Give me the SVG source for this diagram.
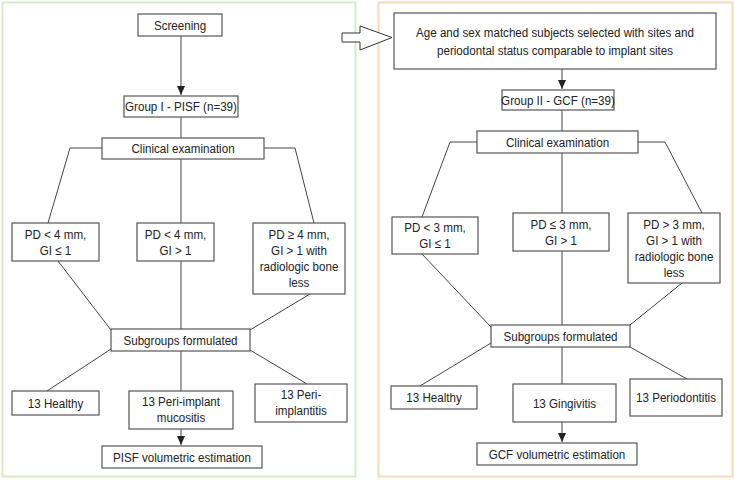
<svg xmlns="http://www.w3.org/2000/svg" width="735" height="480" viewBox="0 0 735 480">
<defs>
<marker id="ah" markerWidth="10" markerHeight="10" refX="9" refY="5" orient="auto" markerUnits="userSpaceOnUse">
<path d="M0,1 L9,5 L0,9 Z" fill="#222"/>
</marker>
<style>
.box{fill:#fff;stroke:#555;stroke-width:1.2}
.ln{fill:none;stroke:#444;stroke-width:1}
text{font-family:"Liberation Sans",Arial,sans-serif;font-size:13.5px;fill:#222;text-anchor:middle}
</style>
</defs>
<rect x="0" y="0" width="735" height="480" fill="#fff"/>
<g id="panel-left"><rect x="2.5" y="2.5" width="353" height="474" fill="none" stroke="#d9e9c8" stroke-width="2"/></g>
<g id="panel-right"><rect x="378.5" y="2.5" width="354" height="474" fill="none" stroke="#f6d9bb" stroke-width="2"/></g>
<g id="hollow-arrow"><path d="M342,33 L360,33 L360,26 L392,37.5 L360,50 L360,42 L342,42 Z" fill="#fff" stroke="#333" stroke-width="1"/></g>

<g id="connectors">
<line class="ln" x1="181" y1="36" x2="181" y2="95" marker-end="url(#ah)"/>
<line class="ln" x1="181" y1="117" x2="181" y2="138"/>
<polyline class="ln" points="102,148 70,148 48,223"/>
<polyline class="ln" points="264,148 295,148 314,223"/>
<line class="ln" x1="181" y1="159" x2="181" y2="329"/>
<line class="ln" x1="58" y1="261" x2="111" y2="330"/>
<line class="ln" x1="310" y1="294" x2="250" y2="330"/>
<line class="ln" x1="111" y1="349" x2="47" y2="391"/>
<line class="ln" x1="181" y1="351" x2="181" y2="391"/>
<line class="ln" x1="250" y1="350" x2="307" y2="384"/>
<line class="ln" x1="181" y1="429" x2="181" y2="445" marker-end="url(#ah)"/>

<line class="ln" x1="562" y1="69" x2="562" y2="89" marker-end="url(#ah)"/>
<line class="ln" x1="562" y1="110" x2="562" y2="131"/>
<polyline class="ln" points="477,142 450,142 422,217"/>
<polyline class="ln" points="638,142 665,142 702,213"/>
<line class="ln" x1="562" y1="153" x2="562" y2="325"/>
<line class="ln" x1="422" y1="254" x2="491" y2="327"/>
<line class="ln" x1="682" y1="283" x2="630" y2="325"/>
<line class="ln" x1="491" y1="343" x2="420" y2="386"/>
<line class="ln" x1="562" y1="347" x2="562" y2="384"/>
<line class="ln" x1="630" y1="347" x2="687" y2="379"/>
<line class="ln" x1="562" y1="422" x2="562" y2="442" marker-end="url(#ah)"/>
</g>

<g id="screening"><rect class="box" x="138" y="14" width="84" height="22"/><text transform="translate(180,29.5) scale(0.86,1)">Screening</text></g>
<g id="group1"><rect class="box" x="124" y="96" width="114" height="21"/><text transform="translate(181,111) scale(0.86,1)">Group I - PISF (n=39)</text></g>
<g id="clin1"><rect class="box" x="102" y="138" width="162" height="21"/><text transform="translate(183,153) scale(0.86,1)">Clinical examination</text></g>
<g id="pd1a"><rect class="box" x="12" y="223" width="87" height="38"/><text transform="translate(55.5,239) scale(0.86,1)">PD &lt; 4 mm,</text><text transform="translate(55.5,255) scale(0.86,1)">GI ≤ 1</text></g>
<g id="pd1b"><rect class="box" x="137" y="223" width="77" height="38"/><text transform="translate(175.5,239) scale(0.86,1)">PD &lt; 4 mm,</text><text transform="translate(175.5,255) scale(0.86,1)">GI &gt; 1</text></g>
<g id="pd1c"><rect class="box" x="253" y="223" width="92" height="71"/><text transform="translate(299,239) scale(0.86,1)">PD ≥ 4 mm,</text><text transform="translate(299,255) scale(0.86,1)">GI &gt; 1 with</text><text transform="translate(299,271) scale(0.86,1)">radiologic bone</text><text transform="translate(299,287) scale(0.86,1)">less</text></g>
<g id="sub1"><rect class="box" x="111" y="329" width="139" height="22"/><text transform="translate(180.5,344.5) scale(0.86,1)">Subgroups formulated</text></g>
<g id="healthy1"><rect class="box" x="12" y="391" width="87" height="24"/><text transform="translate(55.5,407.5) scale(0.86,1)">13 Healthy</text></g>
<g id="mucositis"><rect class="box" x="129" y="391" width="104" height="38"/><text transform="translate(181,406) scale(0.86,1)">13 Peri-implant</text><text transform="translate(181,422) scale(0.86,1)">mucositis</text></g>
<g id="periimplantitis"><rect class="box" x="255" y="384" width="92" height="38"/><text transform="translate(301,399) scale(0.86,1)">13 Peri-</text><text transform="translate(301,415) scale(0.86,1)">implantitis</text></g>
<g id="pisf"><rect class="box" x="102" y="446" width="160" height="22"/><text transform="translate(182,461.5) scale(0.86,1)">PISF volumetric estimation</text></g>

<g id="age"><rect class="box" x="394" y="13" width="322" height="56"/><text transform="translate(555,37) scale(0.86,1)">Age and sex matched subjects selected with sites and</text><text transform="translate(555,55) scale(0.86,1)">periodontal status comparable to implant sites</text></g>
<g id="group2"><rect class="box" x="502" y="90" width="112" height="20"/><text transform="translate(558,104.5) scale(0.86,1)">Group II - GCF (n=39)</text></g>
<g id="clin2"><rect class="box" x="477" y="131" width="161" height="22"/><text transform="translate(557.5,146.5) scale(0.86,1)">Clinical examination</text></g>
<g id="pd2a"><rect class="box" x="392" y="217" width="86" height="37"/><text transform="translate(435,232) scale(0.86,1)">PD &lt; 3 mm,</text><text transform="translate(435,248) scale(0.86,1)">GI ≤ 1</text></g>
<g id="pd2b"><rect class="box" x="513" y="213" width="96" height="38"/><text transform="translate(561,228.5) scale(0.86,1)">PD ≤ 3 mm,</text><text transform="translate(561,244.5) scale(0.86,1)">GI &gt; 1</text></g>
<g id="pd2c"><rect class="box" x="628" y="213" width="92" height="70"/><text transform="translate(674,229) scale(0.86,1)">PD &gt; 3 mm,</text><text transform="translate(674,245) scale(0.86,1)">GI &gt; 1 with</text><text transform="translate(674,261) scale(0.86,1)">radiologic bone</text><text transform="translate(674,277) scale(0.86,1)">less</text></g>
<g id="sub2"><rect class="box" x="491" y="325" width="139" height="22"/><text transform="translate(560.5,340.5) scale(0.86,1)">Subgroups formulated</text></g>
<g id="healthy2"><rect class="box" x="391" y="386" width="86" height="23"/><text transform="translate(434,402) scale(0.86,1)">13 Healthy</text></g>
<g id="gingivitis"><rect class="box" x="513" y="384" width="103" height="38"/><text transform="translate(564.5,407.5) scale(0.86,1)">13 Gingivitis</text></g>
<g id="periodontitis"><rect class="box" x="630" y="379" width="92" height="37"/><text transform="translate(676,402) scale(0.86,1)">13 Periodontitis</text></g>
<g id="gcf"><rect class="box" x="477" y="443" width="160" height="22"/><text transform="translate(557,458.5) scale(0.86,1)">GCF volumetric estimation</text></g>
</svg>
